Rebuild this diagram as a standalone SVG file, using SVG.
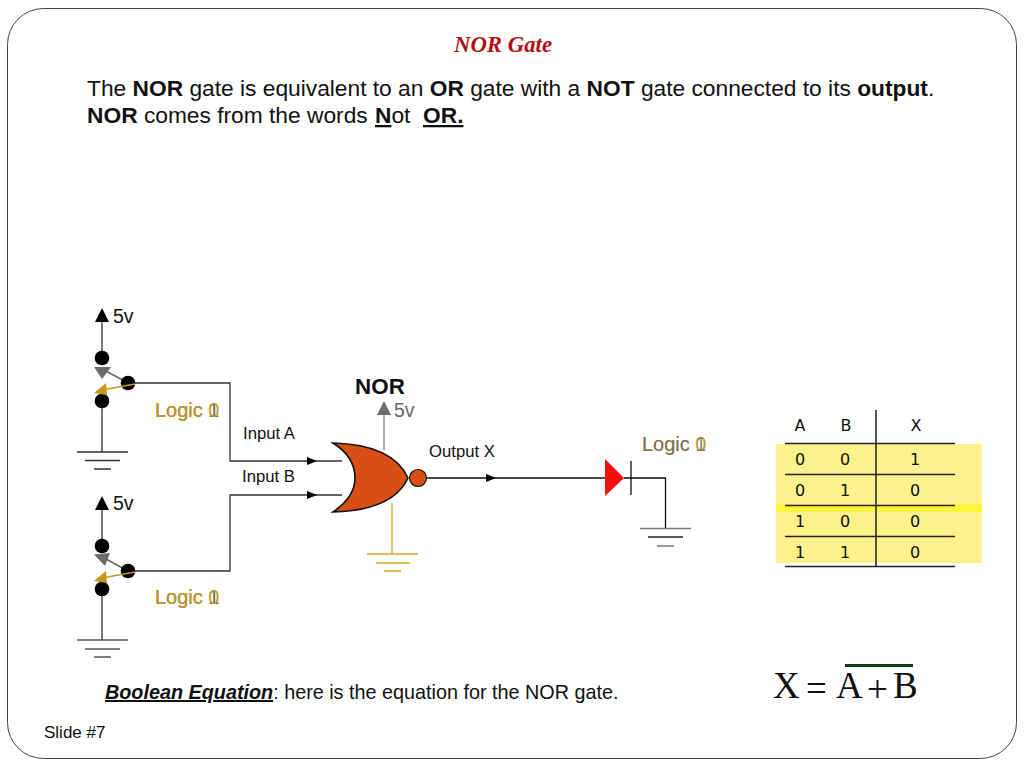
<svg xmlns="http://www.w3.org/2000/svg" width="1024" height="768" viewBox="0 0 1024 768">
<defs>
<style>
text{font-family:"Liberation Sans",Arial,sans-serif;fill:#111}
.w{fill:none;stroke:#333;stroke-width:1.3}
.k{fill:none;stroke:#111;stroke-width:1.3}
.v{font-size:19.500px}
.logic{font-size:20px;fill:#c49a1a}
.logicb{font-size:20px;fill:#666}
.tt{font-size:16px;font-family:"DejaVu Sans","Liberation Sans",sans-serif;text-anchor:middle}
.body{font-size:22.750px}
.lbl{font-size:16.700px}
.eq{font-family:"Liberation Serif",serif;font-size:37px}
</style>
<g id="sw">
<path d="M26 25L4 13" stroke="#666" stroke-width="1.5" fill="none"/>
<circle cx="0" cy="0" r="7.300" fill="#000"/>
<circle cx="0" cy="43" r="7.300" fill="#000"/>
<circle cx="26" cy="25" r="7.300" fill="#000"/>
<path d="M33 26L0 32" stroke="#c49a1a" stroke-width="1.5" fill="none"/>
<path d="M-8 35L4 25L5 37Z" fill="#c49a1a"/>
</g>
</defs>
<rect width="1024" height="768" fill="#fff"/>
<rect x="7.500" y="8.500" width="1009" height="750" rx="36" fill="#fff" stroke="#444" stroke-width="1"/>
<g id="title">
<text x="503" y="52" text-anchor="middle" style="font-family:'Liberation Serif',serif;font-size:22.800px;font-weight:bold;font-style:italic;fill:#b01010">NOR Gate</text>
<text x="87" y="96" class="body">The <tspan font-weight="bold">NOR</tspan> gate is equivalent to an <tspan font-weight="bold">OR</tspan> gate with a <tspan font-weight="bold">NOT</tspan> gate connected to its <tspan font-weight="bold">output</tspan>.</text>
<text x="87" y="123" class="body"><tspan font-weight="bold">NOR</tspan> comes from the words <tspan x="375" font-weight="bold" text-decoration="underline">N</tspan>ot <tspan font-weight="bold" text-decoration="underline" x="423">OR.</tspan></text>
</g>
<g id="connectors">
<path class="w" d="M102 320V352M102 408V452"/>
<path class="w" d="M128 383H230V461H342"/>
<path class="w" d="M128 571H230V495H342"/>
<path class="w" d="M102 508V540M102 596V640"/>
<path d="M384 412V450" stroke="#999" stroke-width="1.5" fill="none"/>
<path d="M392 503V554" stroke="#dba91f" stroke-width="1.3" fill="none"/>
<path class="k" d="M427 478H606M624 478H665.500V528"/>
<path d="M631 461V495" stroke="#111" stroke-width="1.3"/>
<path d="M307 457L317 461L307 465ZM307 491L317 495L307 499ZM486 474L496 478L486 482Z" fill="#000"/>
</g>
<g id="source-a">
<path d="M95 322L102 308L109 322Z" fill="#000"/>
<text x="113" y="323" class="v">5v</text>
<use href="#sw" x="102" y="358"/>
<path d="M94 367H111L102 379Z" fill="#6b6b6b"/>
<path d="M77 452H128M85 460.500H120M94 469H111" stroke="#333" stroke-width="1.3" fill="none"/>
<text x="155" y="417" class="logicb">Logic 1</text>
<text x="155" y="417" class="logic">Logic 0</text>
</g>
<g id="source-b">
<path d="M95 510L102 496L109 510Z" fill="#000"/>
<text x="113" y="510" class="v">5v</text>
<use href="#sw" x="102" y="546"/>
<path d="M94 554.500L110 553L105 566Z" fill="#6b6b6b"/>
<path d="M77 640H128M85 649H120M94 657H111" stroke="#555" stroke-width="1.3" fill="none"/>
<text x="155" y="604" class="logicb">Logic 1</text>
<text x="155" y="604" class="logic">Logic 0</text>
</g>
<g id="nor-gate">
<text x="380" y="394" text-anchor="middle" style="font-size:22.400px;font-weight:bold">NOR</text>
<path d="M377 415L384 401L391 415Z" fill="#6e6e6e"/>
<text x="394" y="417" class="v" style="fill:#666">5v</text>
<path d="M333 443C372 444 398 456 408 478C398 500 372 511 333 512C349 501 355 490 355 478C355 465 349 453 333 443Z" fill="#d84e14" stroke="#111" stroke-width="1.6"/>
<circle cx="418" cy="478" r="8.500" fill="#d84e14" stroke="#111" stroke-width="1.2"/>
<path d="M367 554H418M376 563H410M384 571H401" stroke="#dba91f" stroke-width="1.3" fill="none"/>
</g>
<g id="labels">
<text x="243" y="439" class="lbl">Input A</text>
<text x="242" y="482" class="lbl">Input B</text>
<text x="429" y="457" class="lbl">Output X</text>
</g>
<g id="diode">
<path d="M605 459L624 478L605 496Z" fill="#f50f0f"/>
<text x="642" y="451" class="logic">Logic 0</text>
<text x="642" y="451" class="logicb" style="opacity:.75">Logic 1</text>
<path d="M640 528.500H691M657 546H674" stroke="#777" stroke-width="1.5" fill="none"/>
<path d="M648 537H683" stroke="#222" stroke-width="1.3" fill="none"/>
</g>
<g id="truth-table">
<rect x="776" y="444" width="206" height="119" fill="#fdf28b"/>
<rect x="776" y="504" width="206" height="8" fill="#fdf63a"/>
<path d="M785 443.500H955M785 474.500H955M785 505.500H955M785 536.500H955M785 566.500H955M876 410V567" stroke="#222" stroke-width="1.5" fill="none"/>
<text x="800" y="431" class="tt">A</text><text x="846" y="431" class="tt">B</text><text x="916" y="431" class="tt">X</text>
<text x="800" y="465" class="tt">0</text><text x="845" y="465" class="tt">0</text><text x="915" y="465" class="tt">1</text>
<text x="800" y="496" class="tt">0</text><text x="845" y="496" class="tt">1</text><text x="915" y="496" class="tt">0</text>
<text x="800" y="527" class="tt">1</text><text x="845" y="527" class="tt">0</text><text x="915" y="527" class="tt">0</text>
<text x="800" y="558" class="tt">1</text><text x="845" y="558" class="tt">1</text><text x="915" y="558" class="tt">0</text>
</g>
<g id="equation">
<text x="773" y="698" class="eq">X</text>
<text x="806" y="701" class="eq">=</text>
<text x="836" y="698" class="eq">A</text>
<text x="867" y="702" class="eq">+</text>
<text x="893" y="698" class="eq">B</text>
<path d="M845 665.500H913" stroke="#0c3d0c" stroke-width="3"/>
</g>
<g id="footer">
<text x="105" y="699" style="font-size:19.800px"><tspan font-weight="bold" font-style="italic" text-decoration="underline">Boolean Equation</tspan>: here is the equation for the NOR gate.</text>
<text x="44" y="738" style="font-size:17px">Slide #7</text>
</g>
</svg>
